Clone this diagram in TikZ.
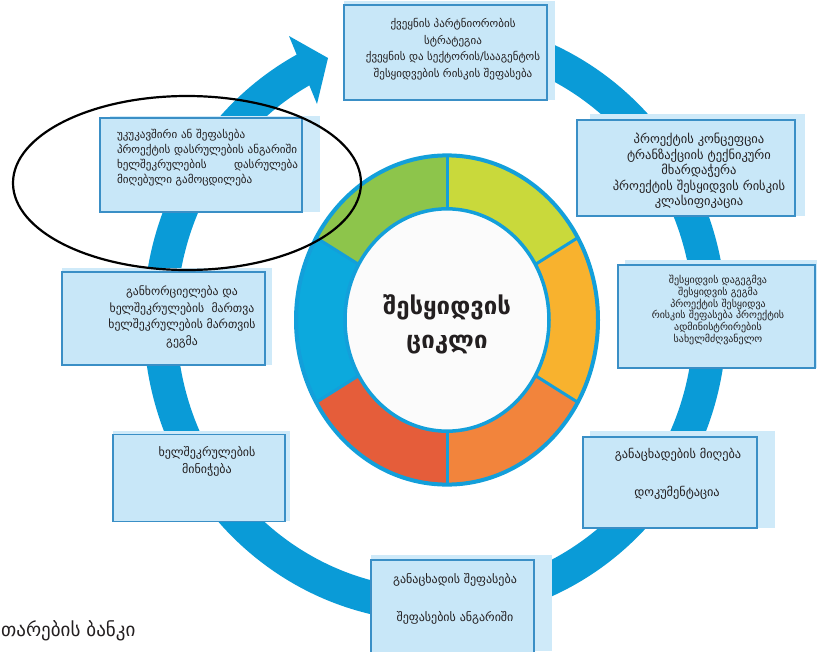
\documentclass[tikz,border=0pt]{standalone}
\usepackage{fontspec}
\setmainfont{DejaVu Sans}
\definecolor{ringblue}{HTML}{0A9BD7}
\definecolor{boxfill}{HTML}{C8E7F8}
\definecolor{boxunder}{HTML}{CFEAF9}
\definecolor{boxline}{HTML}{3A8FC6}
\definecolor{txt}{HTML}{231F20}
\definecolor{segA}{HTML}{C9D93B}
\definecolor{segB}{HTML}{F8B22E}
\definecolor{segC}{HTML}{F2843C}
\definecolor{segD}{HTML}{E55D3A}
\definecolor{segE}{HTML}{0CA9DD}
\definecolor{segF}{HTML}{8DC54B}
\definecolor{donutline}{HTML}{139FDA}
\definecolor{innerwhite}{HTML}{FBFBFB}
\tikzset{
  infobox/.style={draw=boxline, fill=boxfill, line width=1.2pt},
  underbox/.style={fill=boxunder},
  boxtext/.style={text=txt, align=center, inner sep=0pt, font=\fontsize{11}{16.5}\selectfont},
}
\newcommand{\seg}[3]{\fill[#1] (-#2:151) arc[start angle=-#2, end angle=-#3, radius=151] -- (-#3:102) arc[start angle=-#3, end angle=-#2, radius=102] -- cycle;}
\begin{document}
\begin{tikzpicture}[x=1pt,y=-1pt]
\useasboundingbox (0,0) rectangle (817,651);
\fill[white] (0,0) rectangle (817,651);

% big circular arrow
\draw[ringblue, line width=33pt] (435,320) ++(-460:275 and 285) arc[start angle=-460, end angle=-117.5, x radius=275, y radius=285];
\fill[ringblue] (289,36) -- (328,58) -- (317,104) -- cycle;

% donut
\begin{scope}[shift={(447,320)}, yscale=1.09]
  \seg{segA}{30}{90}
  \seg{segB}{-30}{30}
  \seg{segC}{-90}{-30}
  \seg{segD}{-150}{-90}
  \seg{segE}{150}{210}
  \seg{segF}{90}{150}
  \fill[innerwhite] (0,0) circle[radius=102];
  \foreach \a in {30,90,150,210,270,330} \draw[donutline, line width=3pt] (\a:102) -- (\a:151);
  \draw[donutline, line width=4pt] (0,0) circle[radius=151];
  \draw[donutline, line width=3.5pt] (0,0) circle[radius=102];
\end{scope}
\node[text=txt, align=center, font=\bfseries\fontsize{24}{34}\selectfont] (title) at (447,324) {შესყიდვის\\ციკლი};

% underlays
\fill[underbox] (344,1) rectangle (555,100);
\fill[underbox] (590,114) rectangle (805,216);
\fill[underbox] (625,260) rectangle (817,368);
\fill[underbox] (590,431) rectangle (775,528);
\fill[underbox] (371,555) rectangle (552,651);
\fill[underbox] (110,116) rectangle (320,212);
\fill[underbox] (62,268) rectangle (272,365);
\fill[underbox] (113,431) rectangle (290,521);

% boxes
\node[infobox, minimum width=203pt, minimum height=95pt] (b1) at (445.5,52.5) {};
\node[infobox, minimum width=218pt, minimum height=96pt] (b2) at (686,168) {};
\node[infobox, minimum width=197pt, minimum height=103pt] (b3) at (716.5,316.5) {};
\node[infobox, minimum width=174pt, minimum height=91pt] (b4) at (670,482.5) {};
\node[infobox, minimum width=163pt, minimum height=100pt] (b5) at (452.5,610) {};
\node[infobox, minimum width=202pt, minimum height=94pt] (b6) at (201,165) {};
\node[infobox, minimum width=203pt, minimum height=93pt] (b7) at (163.5,318.5) {};
\node[infobox, minimum width=172pt, minimum height=87pt] (b8) at (199,478) {};

% texts
\node[boxtext] (t1) at (453,49) {ქვეყნის პარტნიორობის\\სტრატეგია\\ქვეყნის და სექტორის/სააგენტოს\\შესყიდვების რისკის შეფასება};
\node[boxtext, font=\fontsize{12.5}{15.5}\selectfont] (t2) at (699,171) {პროექტის კონცეფცია\\ტრანზაქციის ტექნიკური\\მხარდაჭერა\\პროექტის შესყიდვის რისკის\\კლასიფიკაცია};
\node[boxtext, font=\fontsize{10}{10.6}\selectfont] (t3) at (718,310) {შესყიდვის დაგეგმვა\\შესყიდვის გეგმა\\პროექტის შესყიდვა\\რისკის შეფასება პროექტის\\ადმინისტრირების\\სახელმძღვანელო};
\node[boxtext, font=\fontsize{12.3}{16}\selectfont] (t4a) at (678,455) {განაცხადების მიღება};
\node[boxtext, font=\fontsize{12.3}{16}\selectfont] (t4b) at (677,493) {დოკუმენტაცია};
\node[boxtext, font=\fontsize{12}{16}\selectfont] (t5a) at (455,580) {განაცხადის შეფასება};
\node[boxtext, font=\fontsize{12}{16}\selectfont] (t5b) at (455,618) {შეფასების ანგარიში};
\node[boxtext, align=left, text width=181pt, font=\fontsize{11.1}{15}\selectfont] (t6) at (207.5,157.5) {უკუკავშირი ან შეფასება\\პროექტის დასრულების ანგარიში\\\makebox[181pt][l]{ხელშეკრულების\hfill დასრულება}\\მიღებული გამოცდილება};
\node[boxtext, font=\fontsize{11.7}{16.7}\selectfont] (t7) at (182,317) {განხორციელება და\\ხელშეკრულების\ \ მართვა\\ხელშეკრულების მართვის\\გეგმა};
\node[boxtext, font=\fontsize{12}{17}\selectfont] (t8) at (207,461.5) {ხელშეკრულების\\მინიჭება};
\node[text=txt, anchor=west, inner sep=0pt, font=\fontsize{19}{21}\selectfont] (bank) at (1,631) {თარების ბანკი};

% ellipse
\draw[black, line width=2.2pt] (187,183) ellipse[x radius=174, y radius=87];
\end{tikzpicture}
\end{document}
